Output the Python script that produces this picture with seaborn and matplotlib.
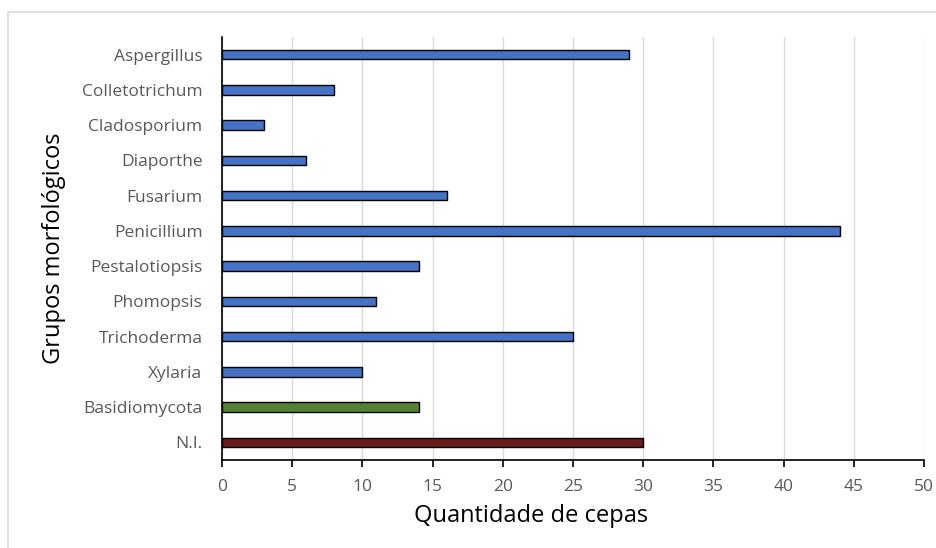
import matplotlib
matplotlib.use("Agg")
import matplotlib.pyplot as plt
import seaborn as sns
import pandas as pd
from matplotlib.patches import Rectangle

grupos = ["Aspergillus", "Colletotrichum", "Cladosporium", "Diaporthe", "Fusarium",
          "Penicillium", "Pestalotiopsis", "Phomopsis", "Trichoderma", "Xylaria",
          "Basidiomycota", "N.I."]
cepas = [29, 8, 3, 6, 16, 44, 14, 11, 25, 10, 14, 30]
cores = ["#4472C4"] * 10 + ["#548235", "#6B1A1E"]
xticks = [0, 5, 10, 15, 20, 25, 30, 35, 40, 45, 50]

df = pd.DataFrame({"grupo": grupos, "cepas": cepas})

sns.set_theme(style="white")
plt.rcParams["font.family"] = ["Open Sans", "DejaVu Sans"]

fig = plt.figure(figsize=(9.37, 5.48), dpi=100)
ax = fig.add_axes([222 / 937, 1 - 460 / 548, 702 / 937, 423 / 548])

sns.barplot(data=df, x="cepas", y="grupo", hue="grupo", palette=cores,
            saturation=1, legend=False, orient="h", width=0.27,
            edgecolor="black", linewidth=1.0, ax=ax, zorder=3)

ax.set_xlim(0, 50)
ax.set_xticks(xticks)
ax.set_xticklabels([str(t) for t in xticks])
ax.grid(axis="x", color="#D9D9D9", linewidth=1.0, zorder=0)
ax.grid(axis="y", visible=False)

for side in ["top", "right"]:
    ax.spines[side].set_visible(False)
ax.spines["left"].set_color("black")
ax.spines["bottom"].set_color("black")
ax.spines["left"].set_linewidth(1.2)
ax.spines["bottom"].set_linewidth(1.2)

ax.tick_params(axis="x", labelcolor="#595959", color="black", labelsize=12.5,
               length=5, width=1.2, direction="out", bottom=True, pad=9)
ax.tick_params(axis="y", labelcolor="#595959", labelsize=12.5, length=0, pad=14)

ax.set_xlabel("Quantidade de cepas", fontsize=17, color="black")
ax.set_ylabel("Grupos morfológicos", fontsize=17, color="black")
ax.xaxis.set_label_coords(0.44, -0.103)
ax.yaxis.set_label_coords(-0.222, 0.5)

# chart frame
fig.patches.append(Rectangle((8 / 937, -0.1), 1.2, 1 - 12 / 548 + 0.1,
                             transform=fig.transFigure, fill=False,
                             edgecolor="#D9D9D9", linewidth=1.2))

fig.savefig("out.png", dpi=100)
